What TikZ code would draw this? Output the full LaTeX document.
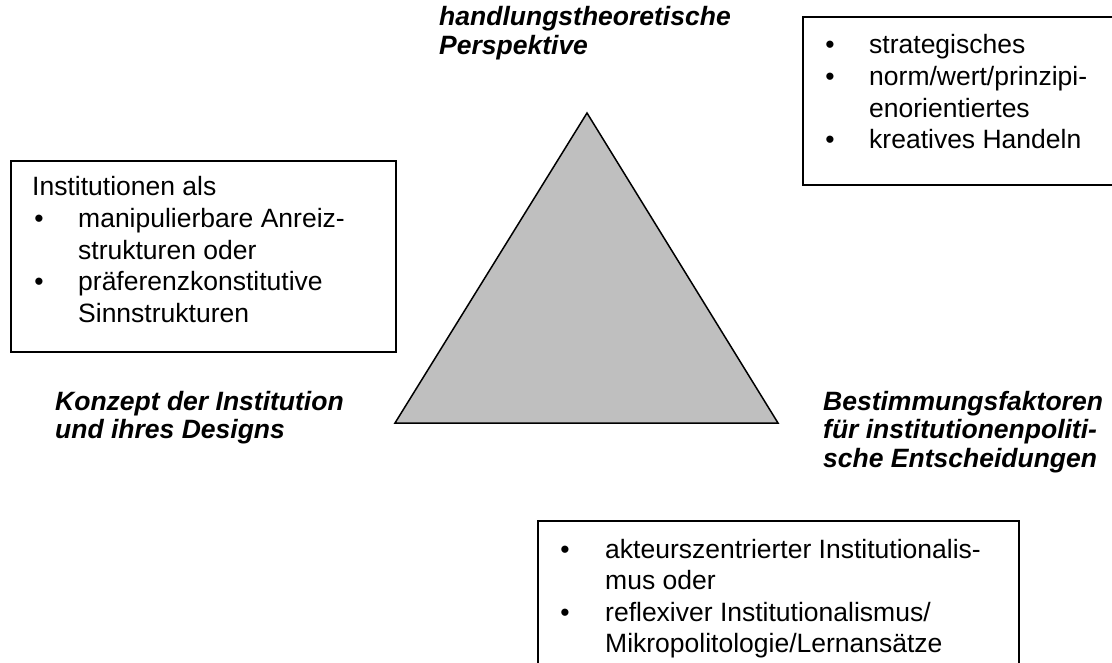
\documentclass[tikz,border=0pt]{standalone}
\usepackage{fontspec}
\setmainfont{Liberation Sans}
\begin{document}
\begin{tikzpicture}[x=1pt,y=-1pt,
  txt/.style={anchor=base west, inner sep=0pt, font=\fontsize{26.5}{31.6}\selectfont},
  ttl/.style={anchor=base west, inner sep=0pt, font=\fontsize{26.5}{28.5}\selectfont\bfseries\itshape},
  bul/.style={anchor=base, inner sep=0pt, font=\fontsize{26.5}{31.6}\selectfont},
  boxline/.style={draw=black, line width=1.5pt},
  tri/.style={draw=black, line width=1.5pt, fill=black!25, line join=miter}]
\useasboundingbox (0,0) rectangle (1112,663);
\clip (0,0) rectangle (1112,663);
\fill[white] (0,0) rectangle (1112,663);

% triangle
\coordinate (apex) at (587,113);
\coordinate (bl) at (395,423);
\coordinate (br) at (778,423);
\draw[tri] (apex) -- (bl) -- (br) -- cycle;

% boxes
\draw[boxline] (803,17) rectangle (1130,185);
\draw[boxline] (11,161) rectangle (396,352);
\draw[boxline] (538,521) rectangle (1019,700);

% titles
\node[ttl] (t1a) at (439,26) {handlungstheoretische};
\node[ttl] (t1b) at (439,54.5) {Perspektive};
\node[ttl] (t2a) at (55,410) {Konzept der Institution};
\node[ttl] (t2b) at (55,438.5) {und ihres Designs};
\node[ttl] (t3a) at (823,410) {Bestimmungsfaktoren};
\node[ttl] (t3b) at (823,438.5) {für institutionenpoliti-};
\node[ttl] (t3c) at (823,467) {sche Entscheidungen};

% top right box
\node[bul] (rb1) at (830,54) {•};
\node[txt] (r1) at (869,54) {strategisches};
\node[bul] (rb2) at (830,85.6) {•};
\node[txt] (r2) at (869,85.6) {norm/wert/prinzipi-};
\node[txt] (r3) at (869,117.2) {enorientiertes};
\node[bul] (rb3) at (830,148.8) {•};
\node[txt] (r4) at (869,148.8) {kreatives Handeln};

% left box
\node[txt] (l0) at (32,196) {Institutionen als};
\node[bul] (lb1) at (39,227.6) {•};
\node[txt] (l1) at (78,227.6) {manipulierbare Anreiz-};
\node[txt] (l2) at (78,259.2) {strukturen oder};
\node[bul] (lb2) at (39,290.8) {•};
\node[txt] (l3) at (78,290.8) {präferenzkonstitutive};
\node[txt] (l4) at (78,322.4) {Sinnstrukturen};

% bottom box
\node[bul] (bb1) at (565,558) {•};
\node[txt] (b1) at (605,558) {akteurszentrierter Institutionalis-};
\node[txt] (b2) at (605,589.6) {mus oder};
\node[bul] (bb2) at (565,621.2) {•};
\node[txt] (b3) at (605,621.2) {reflexiver Institutionalismus/};
\node[txt] (b4) at (605,652.8) {Mikropolitologie/Lernansätze};
\end{tikzpicture}
\end{document}
